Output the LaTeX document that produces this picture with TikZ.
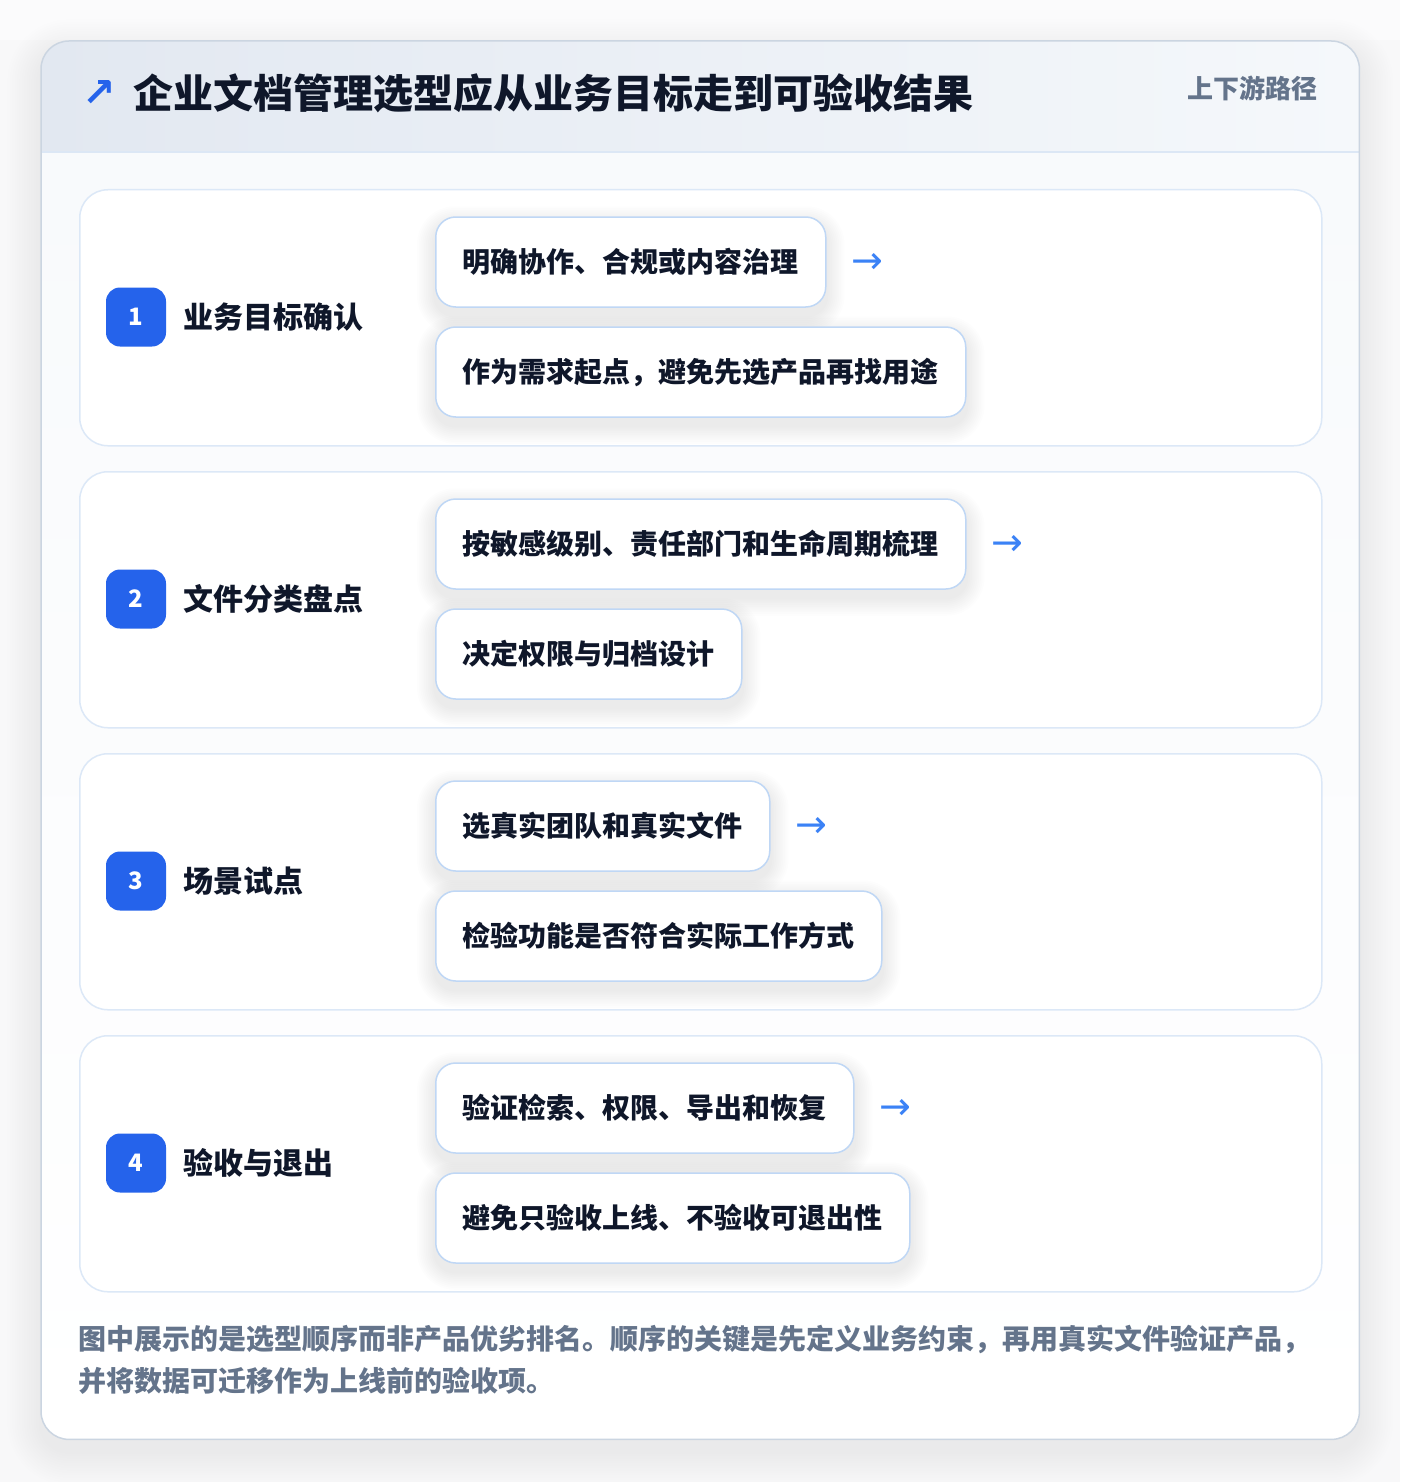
\documentclass[tikz,border=0pt]{standalone}
\usepackage{fontspec}
\setmainfont{Noto Sans CJK SC}
\newfontfamily\symfont{DejaVu Sans}
\definecolor{pagebg}{HTML}{F8F8F9}
\definecolor{cardborder}{HTML}{CBD5E1}
\definecolor{hdrL}{HTML}{E2E8F1}
\definecolor{hdrR}{HTML}{F5F8FB}
\definecolor{hdrline}{HTML}{DCE7F5}
\definecolor{bodybg}{HTML}{F8FAFC}
\definecolor{stepborder}{HTML}{DCE8F7}
\definecolor{chipborder}{HTML}{BFD7F5}
\definecolor{ink}{HTML}{0F172A}
\definecolor{muted}{HTML}{64748B}
\definecolor{accent}{HTML}{2563EB}
\definecolor{arrowc}{HTML}{3B82F6}
\pgfdeclarelayer{back}
\pgfdeclarelayer{mid}
\pgfsetlayers{back,mid,main}
\tikzset{
  cardbox/.style={minimum width=1318pt, minimum height=1398pt, inner sep=0pt, anchor=north west},
  stepcard/.style={draw=stepborder, fill=white, line width=1.5pt, rounded corners=28pt,
    minimum width=1242pt, minimum height=256pt, inner sep=0pt, anchor=north west},
  chip/.style={draw=chipborder, fill=white, line width=1.5pt, rounded corners=20pt,
    minimum height=90pt, inner xsep=27pt, inner ysep=0pt, anchor=west, text=ink,
    font=\fontsize{28}{34}\selectfont\bfseries},
  badge/.style={fill=accent, rounded corners=14pt, minimum width=60pt, minimum height=59pt,
    inner sep=0pt, text=white, font=\fontsize{24}{28}\selectfont\bfseries},
  steplabel/.style={anchor=west, inner sep=0pt, text=ink, font=\fontsize{30}{36}\selectfont\bfseries},
  nextarrow/.style={anchor=west, inner sep=0pt, text=arrowc, font=\symfont\fontsize{38}{40}\selectfont},
  foot/.style={anchor=west, inner sep=0pt, text=muted, font=\fontsize{28}{34}\selectfont\bfseries}
}
% soft shadow: node, downward offset, steps, step size, opacity per layer, base radius
\newcommand{\softshadow}[6]{%
  \foreach \i in {1,...,#3}{%
    \pgfmathsetmacro\sp{\i*#4}%
    \pgfmathsetmacro\rr{#6+\sp}%
    \fill[black, opacity=#5, rounded corners=\rr pt]
      ([xshift=-\sp pt, yshift=-#2pt-\sp pt]#1.south west) rectangle
      ([xshift=\sp pt, yshift=\sp pt-#2pt]#1.north east);
  }%
}
\newcommand{\stepblock}[5]{%
  \begin{pgfonlayer}{back}
  \node[stepcard] (s#1) at (79,#2) {};
  \end{pgfonlayer}
  \node[badge] (b#1) at (136,#2+128) {#1};
  \node[steplabel] (l#1) at (183,#2+128) {#3};
  \node[chip] (c#1a) at (435,#2+73) {#4};
  \node[chip] (c#1b) at (435,#2+183) {#5};
  \node[nextarrow] (a#1) at ([xshift=25pt, yshift=-1pt]c#1a.east) {→};
  \begin{pgfonlayer}{mid}
  \softshadow{c#1a}{8}{10}{1.8}{0.007}{20}
  \softshadow{c#1b}{8}{10}{1.8}{0.007}{20}
  \end{pgfonlayer}
}
\begin{document}
\begin{tikzpicture}[x=1pt,y=-1pt]
\useasboundingbox (0,0) rectangle (1400,1482);
\begin{pgfonlayer}{back}
\fill[pagebg] (0,0) rectangle (1400,1482);
\fill[white, opacity=0.5] (0,0) rectangle (1400,40);
\node[cardbox] (card) at (41,41) {};
\softshadow{card}{12}{14}{2.4}{0.005}{28}
\begin{scope}
  \clip[rounded corners=28pt] (card.north west) rectangle (card.south east);
  \shade[top color=bodybg, bottom color=white] (41,152) rectangle (1359,1439);
  \shade[left color=hdrL, right color=hdrR] (41,41) rectangle (1359,152);
\end{scope}
\draw[hdrline, line width=1.5pt] (41,152) -- (1359,152);
\draw[cardborder, line width=1.5pt, rounded corners=28pt] (card.north west) rectangle (card.south east);
\end{pgfonlayer}
% header
\node[inner sep=0pt, text=accent, font=\symfont\bfseries\fontsize{40}{44}\selectfont] (ticon) at (99,94) {↗};
\node[anchor=west, inner sep=0pt, text=ink, font=\fontsize{40}{46}\selectfont\bfseries] (title) at (133,93) {企业文档管理选型应从业务目标走到可验收结果};
\node[anchor=east, inner sep=0pt, text=muted, font=\fontsize{26}{30}\selectfont\bfseries] (tag) at (1318,88) {上下游路径};
% steps
\stepblock{1}{189}{业务目标确认}{明确协作、合规或内容治理}{作为需求起点，避免先选产品再找用途}
\stepblock{2}{471}{文件分类盘点}{按敏感级别、责任部门和生命周期梳理}{决定权限与归档设计}
\stepblock{3}{753}{场景试点}{选真实团队和真实文件}{检验功能是否符合实际工作方式}
\stepblock{4}{1035}{验收与退出}{验证检索、权限、导出和恢复}{避免只验收上线、不验收可退出性}
% footer
\node[foot] (f1) at (78,1339) {图中展示的是选型顺序而非产品优劣排名。顺序的关键是先定义业务约束，再用真实文件验证产品，};
\node[foot] (f2) at (78,1381) {并将数据可迁移作为上线前的验收项。};
\end{tikzpicture}
\end{document}
